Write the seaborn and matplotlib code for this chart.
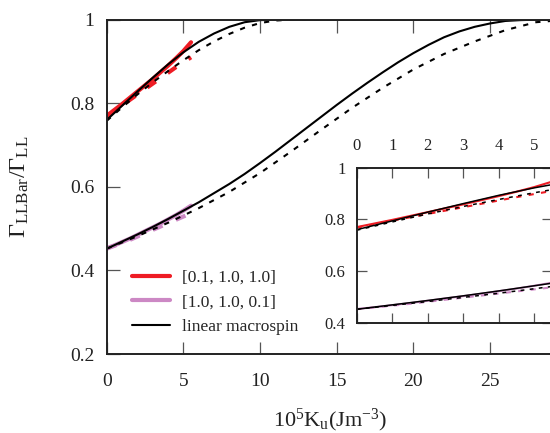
import numpy as np
import pandas as pd
import seaborn as sns
from matplotlib import pyplot as plt

# ---- data ----
# anisotropy axis (10^5 Ku, J m^-3)
ku_up = [0, 1, 2, 3, 4, 5, 6, 7, 8, 9, 10, 11, 12, 14, 16, 18, 20, 22, 24, 26, 28, 30]
ku_lo = list(range(0, 31))
ku_lo_dash = [0, 2, 4, 6, 8, 10, 12, 14, 16, 18, 20, 22, 24, 26, 28, 30]
ku_sim = [0, 0.5, 1, 1.5, 2, 2.5, 3, 3.5, 4, 4.5, 5, 5.5]

# linear macrospin, upper branch
macro_up_solid = [0.760, 0.794, 0.828, 0.861, 0.893, 0.922, 0.947, 0.967, 0.983,
                  0.994, 0.999, 1.0, 1.0, 1.0, 1.0, 1.0, 1.0, 1.0, 1.0, 1.0, 1.0, 1.0]
macro_up_dash = [0.758, 0.790, 0.821, 0.850, 0.877, 0.903, 0.927, 0.948, 0.966,
                 0.981, 0.992, 0.998, 1.0, 1.0, 1.0, 1.0, 1.0, 1.0, 1.0, 1.0, 1.0, 1.0]
# linear macrospin, lower branch
macro_lo_solid = [0.452, 0.469, 0.486, 0.504, 0.523, 0.543, 0.563, 0.585, 0.607, 0.631,
                  0.657, 0.684, 0.712, 0.740, 0.768, 0.796, 0.823, 0.849, 0.874, 0.898,
                  0.920, 0.940, 0.958, 0.972, 0.983, 0.991, 0.997, 0.999, 1.0, 1.0, 1.0]
macro_lo_dash = [0.452, 0.482, 0.514, 0.549, 0.588, 0.633, 0.684, 0.737, 0.789,
                 0.837, 0.881, 0.918, 0.948, 0.975, 0.994, 1.0]

# simulations
red_solid = [0.770, 0.784, 0.798, 0.813, 0.828, 0.843, 0.858, 0.874, 0.890, 0.907, 0.925, 0.946]
red_dash = [0.768, 0.781, 0.795, 0.808, 0.821, 0.834, 0.847, 0.860, 0.873, 0.886, 0.898, 0.910]
pink_solid = [0.453, 0.460, 0.468, 0.476, 0.485, 0.494, 0.503, 0.512, 0.522, 0.532, 0.543, 0.555]
pink_dash = [0.452, 0.459, 0.466, 0.473, 0.481, 0.489, 0.497, 0.505, 0.513, 0.521, 0.529, 0.537]

labels = ["[0.1, 1.0, 1.0]", "[1.0, 1.0, 0.1]", "linear macrospin"]
main_xticks = [0, 5, 10, 15, 20, 25]
main_yticks = [0.2, 0.4, 0.6, 0.8, 1.0]
inset_xticks = [0, 1, 2, 3, 4, 5]
inset_yticks = [0.4, 0.6, 0.8, 1.0]

RED = "#ee1c24"
PINK = "#cc88c4"

sns.set_theme(style="ticks")
plt.rcParams["font.family"] = ["Liberation Serif", "DejaVu Serif"]
plt.rcParams["mathtext.fontset"] = "custom"
plt.rcParams["mathtext.rm"] = "Liberation Serif"
plt.rcParams["mathtext.it"] = "Liberation Serif:italic"
plt.rcParams["axes.edgecolor"] = "#222222"

fig = plt.figure(figsize=(5.5, 4.33), dpi=100)
ax = fig.add_axes([0.194, 0.1824, 0.8364, 0.7721])
axin = fig.add_axes([0.6485, 0.2547, 0.3551, 0.358])

DASH = (2.5, 3.5)


def draw(a, lw_sim, lw_mac, with_labels=False):
    """画出模拟曲线与宏自旋曲线"""
    sns.lineplot(x=ku_sim, y=red_solid, ax=a, color=RED, lw=lw_sim,
                 label=labels[0] if with_labels else None)
    sns.lineplot(x=ku_sim, y=red_dash, ax=a, color=RED, lw=lw_sim)
    a.lines[-1].set_dashes(DASH)
    sns.lineplot(x=ku_sim, y=pink_solid, ax=a, color=PINK, lw=lw_sim,
                 label=labels[1] if with_labels else None)
    sns.lineplot(x=ku_sim, y=pink_dash, ax=a, color=PINK, lw=lw_sim)
    a.lines[-1].set_dashes(DASH)
    sns.lineplot(x=ku_up, y=macro_up_solid, ax=a, color="black", lw=lw_mac,
                 label=labels[2] if with_labels else None)
    sns.lineplot(x=ku_up, y=macro_up_dash, ax=a, color="black", lw=lw_mac)
    a.lines[-1].set_dashes(DASH)
    sns.lineplot(x=ku_lo, y=macro_lo_solid, ax=a, color="black", lw=lw_mac)
    sns.lineplot(x=ku_lo_dash, y=macro_lo_dash, ax=a, color="black", lw=lw_mac)
    a.lines[-1].set_dashes(DASH)


draw(ax, 3.0, 1.5, with_labels=True)
draw(axin, 1.5, 1.1)

fmt = lambda v: f"{v:g}"

# main axes
ax.set_xlim(0, 30)
ax.set_ylim(0.2, 1.0)
ax.set_xticks(main_xticks)
ax.set_xticklabels([fmt(v) for v in main_xticks])
ax.set_yticks(main_yticks)
ax.set_yticklabels([fmt(v) for v in main_yticks])
ax.tick_params(direction="in", top=True, right=True, length=9, width=0.9,
               color="#555555", labelsize=14, labelcolor="#222222")
ax.tick_params(axis="x", pad=14)
ax.tick_params(axis="y", pad=9)
for s in ax.spines.values():
    s.set_linewidth(1.4)
ax.set_xlabel(r"$10^5$K$_{\rm u}$(Jm$^{-3}$)", fontsize=16, color="#222222")
ax.xaxis.set_label_coords(0.485, -0.157)
ax.set_ylabel(r"$\Gamma_{\rm LLBar}/\Gamma_{\rm LL}$", fontsize=17.5, color="#222222")
ax.yaxis.set_label_coords(-0.165, 0.5)

ax.legend(loc="upper left", bbox_to_anchor=(0.2395, 0.3776), bbox_transform=fig.transFigure,
          frameon=False, fontsize=12.5, handlelength=2.2, handletextpad=0.67,
          labelspacing=0.5, borderpad=0, borderaxespad=0)

# inset
axin.set_xlim(0, 5.5)
axin.set_ylim(0.4, 1.0)
axin.set_xticks(inset_xticks)
axin.set_xticklabels([fmt(v) for v in inset_xticks])
axin.set_yticks(inset_yticks)
axin.set_yticklabels([fmt(v) for v in inset_yticks])
axin.xaxis.tick_top()
axin.tick_params(direction="in", top=True, bottom=True, left=True, right=True,
                 length=7.5, width=0.9, color="#555555", labelsize=12,
                 labelcolor="#222222")
axin.tick_params(axis="x", pad=10)
axin.tick_params(axis="y", pad=8)
for s in axin.spines.values():
    s.set_linewidth(1.4)
axin.set_xlabel("")
axin.set_ylabel("")

fig.savefig("out.png", dpi=100)
